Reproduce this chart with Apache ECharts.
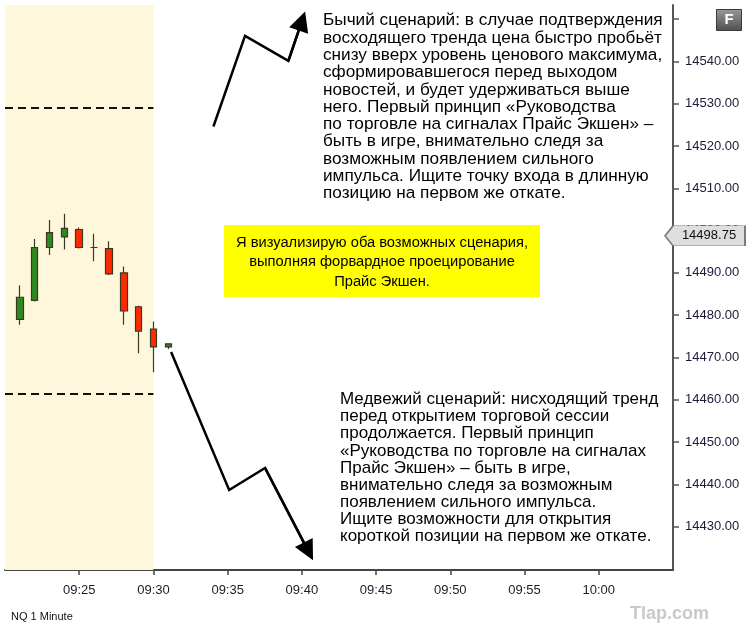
<!DOCTYPE html>
<html>
<head>
<meta charset="utf-8">
<script src="https://cdn.jsdelivr.net/npm/echarts@6/dist/echarts.min.js"></script>
<style>
html, body { margin: 0; padding: 0; background: #fff; }
#chart { width: 752px; height: 642px; }
</style>
</head>
<body>
<div id="chart"></div>
<script>
// minutes after 09:00
var candleMinutes = [21, 22, 23, 24, 25, 26, 27, 28, 29, 30, 31];
var opens  = [14479, 14483.5, 14496, 14498.5, 14500.25, 14496, 14495.75, 14490, 14482, 14476.75, 14472.5];
var closes = [14484.25, 14496, 14499.5, 14500.5, 14496, 14496, 14489.75, 14481, 14476.25, 14472.5, 14473.25];
var lows   = [14477.75, 14483.25, 14494.25, 14495.5, 14495.75, 14492.75, 14489.5, 14477.75, 14471, 14466.5, 14472];
var highs  = [14487, 14498, 14502.5, 14504, 14500.75, 14499.25, 14497.5, 14491.5, 14482.25, 14478.5, 14473.25];

var timeTicks = [25, 30, 35, 40, 45, 50, 55, 60];
var priceTicks = [14430, 14440, 14450, 14460, 14470, 14480, 14490, 14500, 14510, 14520, 14530, 14540, 14550];
var priceLabels = [14430, 14440, 14450, 14460, 14470, 14480, 14490, 14500, 14510, 14520, 14530, 14540];

var lastPrice = 14498.75;
var newsHigh = 14529;
var sessionLow = 14461.5;
var preSession = [20, 30];

// scenario arrows: [minute, price], last point = centre of the arrow head
var bullPath = [[34.04, 14524.6], [36.17, 14546], [39.09, 14540.1], [40.0, 14549.5]];
var bearPath = [[31.19, 14471.3], [35.1, 14438.7], [37.52, 14443.9], [40.44, 14424.2]];

var bullText = [
	'Бычий сценарий: в случае подтверждения',
	'восходящего тренда цена быстро пробьёт',
	'снизу вверх уровень ценового максимума,',
	'сформировавшегося перед выходом',
	'новостей, и будет удерживаться выше',
	'него. Первый принцип «Руководства',
	'по торговле на сигналах Прайс Экшен» –',
	'быть в игре, внимательно следя за',
	'возможным появлением сильного',
	'импульса. Ищите точку входа в длинную',
	'позицию на первом же откате.'
];
var bearText = [
	'Медвежий сценарий: нисходящий тренд',
	'перед открытием торговой сессии',
	'продолжается. Первый принцип',
	'«Руководства по торговле на сигналах',
	'Прайс Экшен» – быть в игре,',
	'внимательно следя за возможным',
	'появлением сильного импульса.',
	'Ищите возможности для открытия',
	'короткой позиции на первом же откате.'
];
var noteText = [
	'Я визуализирую оба возможных сценария,',
	'выполняя форвардное проецирование',
	'Прайс Экшен.'
];

var fmtTime = function(m) {
	var h = 9 + Math.floor(m / 60);
	var mm = m % 60;
	return (h < 10 ? '0' + h : h) + ':' + (mm < 10 ? '0' + mm : mm);
};

var candleData = [];
for (var i = 0; i < candleMinutes.length; i++) {
	candleData.push([candleMinutes[i], opens[i], closes[i], lows[i], highs[i]]);
}

//last leg of each arrow gets the head
var heads = [bullPath, bearPath].map(function(p) {
	return {coords: [p[p.length - 2], p[p.length - 1]]};
});

var font = '"Liberation Sans", Arial, sans-serif';
var myChart = echarts.init(document.getElementById('chart'), null, {renderer: 'canvas'});
var option = {
	animation: false,
	backgroundColor: '#fff',
	grid: {
		left: 5,
		right: 79,
		top: 5,
		bottom: 72
	},
	xAxis: {
		type: 'value',
		min: 20,
		max: 65,
		splitLine: {show: false},
		axisLine: {lineStyle: {color: '#444', width: 2}},
		axisTick: {customValues: timeTicks, length: 5, lineStyle: {color: '#444', width: 1.5}},
		axisLabel: {
			customValues: timeTicks,
			formatter: fmtTime,
			color: '#1c1c2a',
			fontFamily: font,
			fontSize: 13,
			margin: 14
		}
	},
	yAxis: {
		type: 'value',
		position: 'right',
		min: 14419.8,
		max: 14553.3,
		scale: true,
		splitLine: {show: false},
		axisLine: {show: true, lineStyle: {color: '#555', width: 2}},
		axisTick: {customValues: priceTicks, length: 6, lineStyle: {color: '#555', width: 1.5}},
		axisLabel: {
			customValues: priceLabels,
			formatter: function(v) { return v.toFixed(2); },
			color: '#1b1b3a',
			fontFamily: font,
			fontSize: 13,
			margin: 12
		}
	},
	series: [
		{
			type: 'candlestick',
			data: candleData,
			encode: {x: 0, y: [1, 2, 3, 4]},
			barWidth: 7,
			itemStyle: {
				color: '#2d8a1e',
				color0: '#ff2a00',
				borderColor: '#3a3a22',
				borderColor0: '#3a3a22',
				borderColorDoji: '#3a3a22',
				borderWidth: 1.2
			},
			markArea: {
				silent: true,
				itemStyle: {color: '#fff7dc'},
				data: [[{xAxis: preSession[0]}, {xAxis: preSession[1]}]]
			},
			markLine: {
				silent: true,
				symbol: 'none',
				label: {show: false},
				lineStyle: {color: '#111', width: 2, type: [8, 5]},
				data: [
					[{coord: [preSession[0], newsHigh]}, {coord: [preSession[1], newsHigh]}],
					[{coord: [preSession[0], sessionLow]}, {coord: [preSession[1], sessionLow]}]
				]
			},
			markPoint: {
				silent: true,
				symbol: 'path://M0,10 L8,0 L80,0 L80,20 L8,20 Z',
				symbolSize: [80, 20],
				symbolOffset: [32, 0],
				itemStyle: {color: '#dedede', borderColor: '#7a7a7a', borderWidth: 1},
				label: {
					show: true,
					position: 'inside',
					offset: [4, 0],
					color: '#111',
					fontFamily: font,
					fontSize: 13,
					formatter: lastPrice.toFixed(2)
				},
				data: [{coord: [65, lastPrice]}]
			}
		},
		{
			type: 'lines',
			coordinateSystem: 'cartesian2d',
			polyline: true,
			silent: true,
			lineStyle: {color: '#000', width: 2.5, opacity: 1},
			data: [{coords: bullPath}, {coords: bearPath}]
		},
		{
			type: 'lines',
			coordinateSystem: 'cartesian2d',
			silent: true,
			symbol: ['none', 'triangle'],
			symbolSize: [13, 20],
			lineStyle: {color: '#000', width: 2.5, opacity: 1},
			data: heads
		}
	],
	graphic: [
		{type: 'text', left: 21, top: 17, style: {text: '1-минутный\nторговый\nтаймфрейм', font: '17px ' + font, lineHeight: 21, fill: '#111'}},
		{type: 'text', left: 21, top: 109, style: {text: 'Уровень\nценового\nмаксимума\nперед выходом\nновостей', font: '17px ' + font, lineHeight: 18.8, fill: '#111'}},
		{type: 'text', left: 18, top: 397, style: {text: 'Уровень\nминимума\nперед\nоткрытием\nторговой сессии', font: '16px ' + font, lineHeight: 16.4, fill: '#111'}},
		{type: 'text', left: 323, top: 12, style: {text: bullText.join('\n'), font: '17.2px ' + font, lineHeight: 17.3, fill: '#000'}},
		{type: 'text', left: 340, top: 391, style: {text: bearText.join('\n'), font: '17px ' + font, lineHeight: 17.1, fill: '#000'}},
		{
			type: 'group',
			left: 224,
			top: 225,
			children: [
				{type: 'rect', shape: {x: 0, y: 0, width: 316, height: 72}, style: {fill: '#ffff00'}},
				{type: 'text', x: 158, y: 8, style: {text: noteText.join('\n'), font: '14.7px ' + font, lineHeight: 19.5, fill: '#000', align: 'center'}}
			]
		},
		{
			type: 'group',
			left: 716,
			top: 9,
			children: [
				{
					type: 'rect',
					shape: {x: 0, y: 0, width: 25, height: 21},
					style: {
						fill: new echarts.graphic.LinearGradient(0, 0, 0, 1, [
							{offset: 0, color: '#9a9a9a'},
							{offset: 1, color: '#4e4e4e'}
						]),
						stroke: '#3a3a3a',
						lineWidth: 1
					}
				},
				{type: 'text', x: 12.5, y: 3, style: {text: 'F', font: 'bold 15px ' + font, fill: '#fff', align: 'center'}}
			]
		},
		{type: 'text', left: 11, top: 611, style: {text: 'NQ 1 Minute', font: '11px ' + font, fill: '#111'}},
		{type: 'text', left: 630, top: 605, style: {text: 'Tlap.com', font: 'bold 18px ' + font, fill: '#c9c9c9'}}
	]
};
myChart.setOption(option);
</script>
</body>
</html>
